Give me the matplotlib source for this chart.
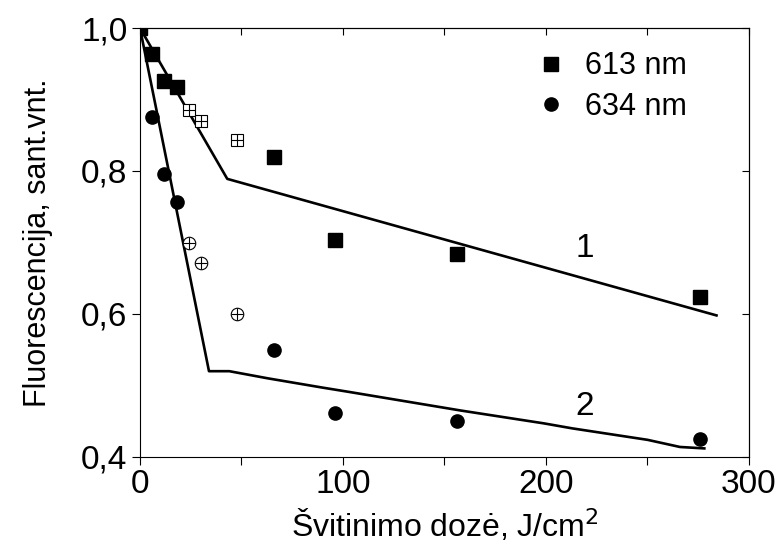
import matplotlib
matplotlib.use('Agg')
import matplotlib.pyplot as plt
from matplotlib.ticker import MultipleLocator, FuncFormatter

plt.rcParams['font.family'] = ['Liberation Sans', 'DejaVu Sans']

# 613 nm data (filled and crossed squares)
x613 = [0, 6, 12, 18, 66, 96, 156, 276]
y613 = [1.0, 0.963, 0.926, 0.917, 0.820, 0.703, 0.684, 0.624]
x613_open = [24, 30, 48]
y613_open = [0.886, 0.870, 0.844]

# 634 nm data (filled and crossed circles)
x634 = [0, 6, 12, 18, 66, 96, 156, 276]
y634 = [1.0, 0.875, 0.796, 0.757, 0.550, 0.461, 0.450, 0.425]
x634_open = [24, 30, 48]
y634_open = [0.699, 0.672, 0.600]

# model curves 1 and 2
line1_x = [0, 43, 284]
line1_y = [1.0, 0.789, 0.598]
line2_x = [0, 34, 44, 63, 90, 103, 158, 199, 213, 250, 266, 278]
line2_y = [1.0, 0.520, 0.520, 0.510, 0.497, 0.491, 0.465, 0.447, 0.440, 0.424, 0.414, 0.412]

fig = plt.figure(figsize=(7.78, 5.59), dpi=100)
ax = fig.add_axes([0.1799, 0.1825, 0.7828, 0.7674])

ax.plot(line1_x, line1_y, color='black', lw=1.9, zorder=2)
ax.plot(line2_x, line2_y, color='black', lw=1.9, zorder=2)

ax.plot(x613, y613, 's', color='black', ms=9.5, ls='none', label='613 nm', zorder=3)
ax.plot(x634, y634, 'o', color='black', ms=9.5, ls='none', label='634 nm', zorder=3)

# crossed open markers
ax.plot(x613_open, y613_open, 's', mfc='white', mec='black', mew=0.8, ms=8, ls='none', zorder=3)
ax.plot(x613_open, y613_open, '+', color='black', mew=0.8, ms=8, ls='none', zorder=4)
ax.plot(x634_open, y634_open, 'o', mfc='white', mec='black', mew=0.8, ms=9, ls='none', zorder=3)
ax.plot(x634_open, y634_open, '+', color='black', mew=0.8, ms=9, ls='none', zorder=4)

ax.text(219, 0.691, '1', fontsize=24, ha='center', va='center')
ax.text(219, 0.470, '2', fontsize=24, ha='center', va='center')

ax.set_xlim(0, 300)
ax.set_ylim(0.4, 1.0)
ax.xaxis.set_major_locator(MultipleLocator(100))
ax.xaxis.set_minor_locator(MultipleLocator(50))
ax.yaxis.set_major_locator(MultipleLocator(0.2))
ax.yaxis.set_major_formatter(FuncFormatter(lambda v, p: f'{v:.1f}'.replace('.', ',')))

ax.tick_params(axis='both', which='major', direction='out', length=6, width=0.8,
               labelsize=24, pad=3)
ax.tick_params(axis='x', which='minor', direction='out', length=6, width=0.8)
ax.tick_params(top=False, right=False, which='both')
for s in ax.spines.values():
    s.set_linewidth(0.8)

# inward ticks on top and right
ax2 = ax.secondary_xaxis('top')
ax2.tick_params(direction='in', length=5, width=0.8, labeltop=False)
ax2.xaxis.set_major_locator(MultipleLocator(50))
ax2.set_xticklabels([])
ax3 = ax.secondary_yaxis('right')
ax3.tick_params(direction='in', length=5, width=0.8)
ax3.yaxis.set_major_locator(MultipleLocator(0.2))
ax3.set_yticklabels([])

ax.set_xlabel('Švitinimo dozė, J/cm$^2$', fontsize=23, labelpad=5)
ax.set_ylabel('Fluorescencija, sant.vnt.', fontsize=22, labelpad=20)

ax.legend(loc='upper left', bbox_to_anchor=(0.605, 1.01), frameon=False, fontsize=22,
          handletextpad=0.6, labelspacing=0.35, handlelength=1.0, numpoints=1)

plt.savefig('out.png', dpi=100)
plt.close()
